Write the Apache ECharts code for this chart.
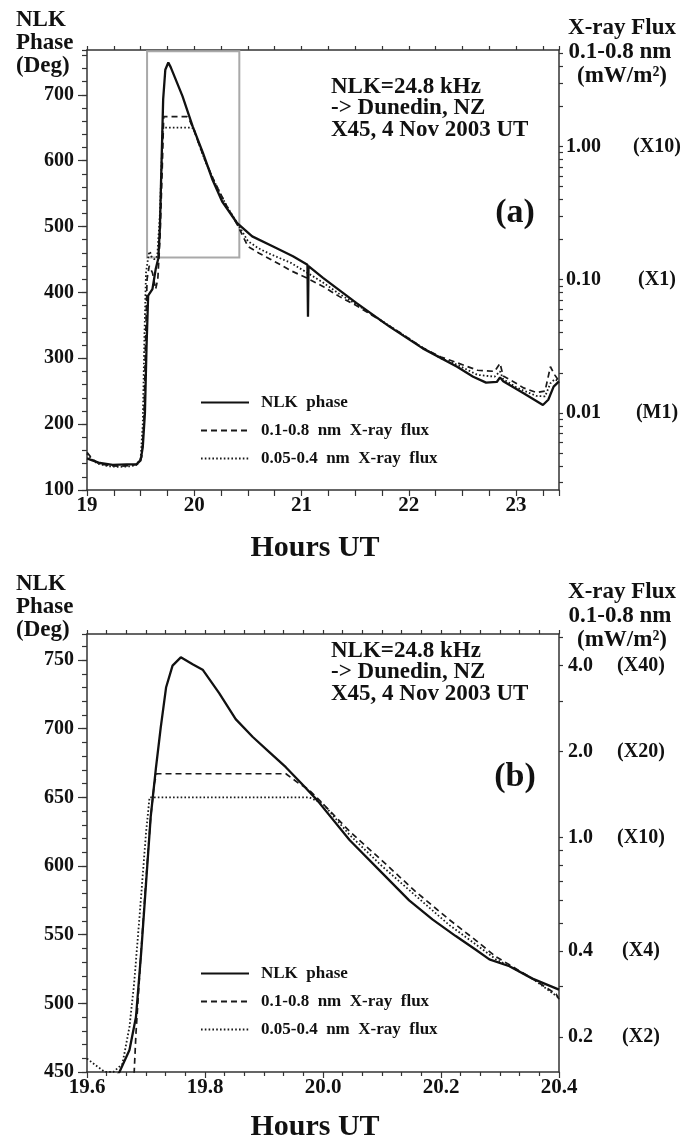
<!DOCTYPE html>
<html>
<head>
<meta charset="utf-8">
<title>NLK phase and X-ray flux, X45 flare, 4 Nov 2003</title>
<script src="https://cdn.jsdelivr.net/npm/echarts@6.0.0/dist/echarts.min.js"></script>
<style>
  html, body { margin: 0; padding: 0; background: #fff; }
  #chart { width: 686px; height: 1146px; }
</style>
</head>
<body>
<div id="chart"></div>
<script>
var seriesNames = ['NLK  phase', '0.1-0.8  nm  X-ray  flux', '0.05-0.4  nm  X-ray  flux'];

// ---- panel (a): [hours UT, value] ----
var nlkPhaseA = [
  [19.00,148],[19.05,145],[19.12,141],[19.24,138],[19.37,139],[19.46,139],[19.50,145],[19.52,165],
  [19.54,217],[19.555,318],[19.57,395],[19.61,405],[19.64,435],[19.665,452],[19.68,500],[19.69,566],
  [19.71,693],[19.73,738],[19.758,749],[19.78,742],[19.80,734],[19.89,698],[19.985,652],[20.08,612],
  [20.17,571],[20.26,538],[20.40,505],[20.54,485],[20.73,470],[20.92,455],[21.055,442],[21.06,363],
  [21.065,440],[21.20,422],[21.51,384],[21.82,348],[22.13,315],[22.45,287],[22.60,272],[22.72,263],
  [22.82,264],[22.85,271],[22.88,265],[23.07,247],[23.25,229],[23.30,237],[23.35,257],[23.40,265]
];
// X-ray flux in mW/m2
var fluxLongA = [
  [19.00,0.00505],[19.05,0.00450],[19.10,0.00420],[19.20,0.00402],[19.30,0.00397],[19.40,0.00402],
  [19.47,0.00411],[19.51,0.00466],[19.53,0.00822],[19.545,0.0323],[19.56,0.101],[19.58,0.127],
  [19.61,0.113],[19.64,0.0851],[19.66,0.101],[19.68,0.200],[19.70,0.625],[19.715,1.68],[19.93,1.68],
  [19.96,1.555],[20.00,1.31],[20.05,1.01],[20.10,0.793],[20.16,0.611],[20.22,0.486],[20.30,0.361],
  [20.40,0.260],[20.50,0.178],[20.60,0.159],[20.70,0.144],[20.80,0.130],[20.90,0.117],[21.06,0.102],
  [21.20,0.0891],[21.35,0.0750],[21.51,0.0640],[21.70,0.0515],[21.82,0.0450],[22.00,0.0362],
  [22.13,0.0308],[22.30,0.0263],[22.45,0.0238],[22.64,0.0209],[22.80,0.0205],[22.85,0.0235],
  [22.88,0.0189],[23.00,0.0167],[23.07,0.0154],[23.19,0.0142],[23.27,0.0146],[23.32,0.0222],
  [23.36,0.0193],[23.40,0.0173]
];
var fluxShortA = [
  [19.00,0.00493],[19.05,0.00445],[19.10,0.00415],[19.20,0.00397],[19.30,0.00393],[19.40,0.00397],
  [19.46,0.00406],[19.50,0.00455],[19.52,0.00822],[19.535,0.0362],[19.55,0.113],[19.575,0.156],
  [19.587,0.163],[19.60,0.150],[19.63,0.142],[19.655,0.150],[19.68,0.315],[19.706,1.39],[19.98,1.39],
  [20.00,1.325],[20.05,1.01],[20.10,0.785],[20.16,0.611],[20.22,0.481],[20.30,0.361],[20.40,0.266],
  [20.50,0.195],[20.60,0.172],[20.70,0.157],[20.80,0.145],[20.90,0.134],[21.06,0.112],[21.20,0.0953],
  [21.35,0.0785],[21.51,0.0655],[21.70,0.0521],[21.82,0.0450],[22.00,0.0362],[22.13,0.0308],
  [22.30,0.0257],[22.45,0.0230],[22.64,0.0193],[22.80,0.0187],[22.85,0.0205],[22.88,0.0179],
  [23.00,0.0156],[23.07,0.0147],[23.19,0.0134],[23.27,0.0133],[23.32,0.0167],[23.36,0.0179],
  [23.40,0.0173]
];

// ---- panel (b): zoom of the peak ----
var nlkPhaseB = [
  [19.600,410],[19.640,440],[19.655,450],[19.672,466],[19.683,490],[19.692,538],[19.700,587],
  [19.708,636],[19.717,672],[19.725,701],[19.734,730],[19.745,746],[19.759,752],[19.779,747],
  [19.796,743],[19.824,726],[19.852,707],[19.881,694],[19.909,683],[19.937,672],[19.966,659],
  [19.990,648],[20.045,619],[20.100,595],[20.146,575],[20.186,561],[20.225,549],[20.259,539],
  [20.282,532],[20.316,527],[20.355,518],[20.400,510]
];
var fluxLongB = [
  [19.670,0.108],[19.680,0.151],[19.683,0.206],[19.692,0.408],[19.700,0.710],[19.708,1.18],
  [19.714,1.54],[19.718,1.67],[19.937,1.67],[19.960,1.54],[19.975,1.475],[20.000,1.31],
  [20.045,1.05],[20.100,0.829],[20.158,0.643],[20.214,0.515],[20.259,0.436],[20.293,0.382],
  [20.316,0.358],[20.355,0.320],[20.395,0.283],[20.400,0.271]
];
var fluxShortB = [
  [19.600,0.168],[19.615,0.159],[19.630,0.151],[19.645,0.151],[19.660,0.161],[19.672,0.217],
  [19.680,0.310],[19.689,0.527],[19.700,1.035],[19.706,1.38],[19.977,1.38],[20.000,1.31],
  [20.045,1.02],[20.100,0.793],[20.158,0.622],[20.214,0.493],[20.259,0.422],[20.293,0.374],
  [20.316,0.354],[20.355,0.320],[20.400,0.274]
];

// ---- axes ----
var hourRangeA = [19, 23.4];
var phaseRangeA = [100, 768];
var phaseTicksA = [100, 200, 300, 400, 500, 600, 700];
var fluxRangeA = [0.002634, 5.318];
var fluxLabelValuesA = [0.01, 0.1, 1];
var fluxLabelTextA = ['0.01', '0.10', '1.00'];
var flareClassA = ['(M1)', '(X1)', '(X10)'];

var hourRangeB = [19.6, 20.4];
var phaseRangeB = [450, 769];
var phaseTicksB = [450, 500, 550, 600, 650, 700, 750];
var fluxRangeB = [0.1508, 5.152];
var fluxLabelValuesB = [0.2, 0.4, 1, 2, 4];
var fluxLabelTextB = ['0.2', '0.4', '1.0', '2.0', '4.0'];
var flareClassB = ['(X2)', '(X4)', '(X10)', '(X20)', '(X40)'];

var zoomBox = [[19.56, 453], [20.42, 766]];

var serif = "'Liberation Serif', 'Times New Roman', serif";
var ink = '#111';
var axisColor = '#333';

function toLog(list) {
    return list.map(function (p) { return [p[0], Math.log10(p[1])]; });
}

// log minor ticks 1..9 x 10^k inside the range
function logTicks(range) {
    var out = [];
    var lo = Math.floor(Math.log10(range[0])), hi = Math.ceil(Math.log10(range[1]));
    for (var k = lo; k <= hi; k++) {
        for (var m = 1; m <= 9; m++) {
            var v = m * Math.pow(10, k);
            if (v >= range[0] && v <= range[1]) out.push(Math.log10(v));
        }
    }
    return out;
}

function fluxFormatter(values, texts, classes) {
    return function (v) {
        for (var i = 0; i < values.length; i++) {
            if (Math.abs(Math.log10(values[i]) - v) < 1e-6) {
                return '{v|' + texts[i] + '}{c|' + classes[i] + '}';
            }
        }
        return '';
    };
}

var lineAxis = { show: true, onZero: false, lineStyle: { color: axisColor, width: 1.5 } };
var tickLine = { color: axisColor, width: 1.2 };
var labelFont = { color: ink, fontFamily: serif, fontWeight: 'bold', fontSize: 20 };

function hourAxis(grid, range, pos, interval, labelFn, minor) {
    return {
        type: 'value', gridIndex: grid, position: pos,
        min: range[0], max: range[1], interval: interval,
        axisLine: lineAxis,
        axisTick: { show: true, length: pos === 'top' ? 4 : 6, lineStyle: tickLine },
        minorTick: { show: !!minor, splitNumber: minor || 5, length: 4, lineStyle: tickLine },
        axisLabel: { show: !!labelFn, formatter: labelFn, margin: 5, fontSize: 21, color: ink, fontFamily: serif, fontWeight: 'bold' },
        splitLine: { show: false }
    };
}

function phaseAxis(grid, range, ticks) {
    return {
        type: 'value', gridIndex: grid, position: 'left',
        min: range[0], max: range[1],
        axisLine: lineAxis,
        axisTick: { show: true, length: 9, customValues: ticks, lineStyle: tickLine },
        axisLabel: Object.assign({ customValues: ticks, margin: 13 }, labelFont),
        splitLine: { show: false }
    };
}

function phaseMinorAxis(grid, range, step) {
    return {
        type: 'value', gridIndex: grid, position: 'left',
        min: range[0], max: range[1], interval: step,
        axisLine: { show: false, onZero: false },
        axisTick: { show: true, length: 5, lineStyle: tickLine },
        axisLabel: { show: false },
        splitLine: { show: false }
    };
}

function fluxAxis(grid, range, values, texts, classes, wv, margin) {
    return {
        type: 'value', gridIndex: grid, position: 'right',
        min: Math.log10(range[0]), max: Math.log10(range[1]),
        axisLine: lineAxis,
        axisTick: { show: true, length: 4, customValues: logTicks(range), lineStyle: tickLine },
        axisLabel: Object.assign({
            customValues: values.map(function (v) { return Math.log10(v); }),
            formatter: fluxFormatter(values, texts, classes),
            margin: margin,
            rich: {
                v: { width: wv, fontFamily: serif, fontWeight: 'bold', fontSize: 20, color: ink },
                c: { width: 58, align: 'center', fontFamily: serif, fontWeight: 'bold', fontSize: 20, color: ink }
            }
        }, labelFont),
        splitLine: { show: false }
    };
}

function lineSeries(name, data, xi, yi, style) {
    return {
        name: name, type: 'line', data: data,
        xAxisIndex: xi, yAxisIndex: yi,
        symbol: 'none', smooth: false, clip: true,
        lineStyle: style, itemStyle: { color: ink },
        z: style.type === 'solid' ? 5 : 3
    };
}

var solidStyle = { color: ink, width: 2.3, type: 'solid' };
var dashStyle = { color: '#1a1a1a', width: 1.7, type: [6, 4] };
var dotStyle = { color: '#1a1a1a', width: 1.8, type: [1.6, 2.2] };

function text(str, x, y, size, align) {
    return {
        type: 'text', x: x, y: y, silent: true,
        style: {
            text: str, fill: ink,
            font: 'bold ' + size + 'px ' + serif,
            align: align || 'left', verticalAlign: 'middle',
            textAlign: align || 'left', textVerticalAlign: 'middle'
        }
    };
}

function panelTexts(dy, letter) {
    return [
        text('NLK', 16, 20 + dy, 23),
        text('Phase', 16, 43 + dy, 23),
        text('(Deg)', 16, 66 + dy, 23),
        text('X-ray Flux', 622, 28 + dy, 23, 'center'),
        text('0.1-0.8 nm', 620, 52 + dy, 23, 'center'),
        text('(mW/m\u00B2)', 622, 76 + dy, 23, 'center'),
        text('NLK=24.8 kHz', 331, 87 + dy, 23),
        text('-> Dunedin, NZ', 331, 108 + dy, 23),
        text('X45, 4 Nov 2003 UT', 331, 130 + dy, 23),
        text(letter, 515, 213 + dy, 34, 'center')
    ];
}

var legendBase = {
    orient: 'vertical', data: seriesNames, padding: 0,
    itemWidth: 48, itemHeight: 14, itemGap: 11,
    selectedMode: false,
    itemStyle: { color: 'rgba(0,0,0,0)', borderWidth: 0, opacity: 0 },
    textStyle: { fontFamily: serif, fontWeight: 'bold', fontSize: 17, color: ink, padding: [0, 0, 0, 7] }
};

var option = {
    backgroundColor: '#fff',
    animation: false,
    grid: [
        { left: 87, top: 50, width: 472, height: 440 },
        { left: 87, top: 634, width: 472, height: 438 }
    ],
    xAxis: [
        hourAxis(0, hourRangeA, 'bottom', 0.25, function (v) {
            return Math.abs(v - Math.round(v)) < 1e-6 ? String(Math.round(v)) : '';
        }),
        hourAxis(0, hourRangeA, 'top', 0.25, null),
        hourAxis(1, hourRangeB, 'bottom', 0.2, function (v) { return v.toFixed(1); }, 6),
        hourAxis(1, hourRangeB, 'top', 0.2, null, 6)
    ],
    yAxis: [
        phaseAxis(0, phaseRangeA, phaseTicksA),
        phaseMinorAxis(0, phaseRangeA, 20),
        fluxAxis(0, fluxRangeA, fluxLabelValuesA, fluxLabelTextA, flareClassA, 62, 7),
        phaseAxis(1, phaseRangeB, phaseTicksB),
        phaseMinorAxis(1, phaseRangeB, 10),
        fluxAxis(1, fluxRangeB, fluxLabelValuesB, fluxLabelTextB, flareClassB, 44, 9)
    ],
    legend: [
        Object.assign({ left: 200, top: 394 }, legendBase),
        Object.assign({ left: 200, top: 965 }, legendBase)
    ],
    graphic: panelTexts(0, '(a)').concat(panelTexts(564, '(b)')).concat([
        text('Hours UT', 315, 548, 30, 'center'),
        text('Hours UT', 315, 1127, 30, 'center')
    ]),
    series: [
        Object.assign(lineSeries(seriesNames[0], nlkPhaseA, 0, 0, solidStyle), {
            markArea: {
                silent: true,
                itemStyle: { color: 'rgba(0,0,0,0)', borderColor: '#a9a9a9', borderWidth: 2 },
                data: [[{ coord: zoomBox[0] }, { coord: zoomBox[1] }]]
            }
        }),
        lineSeries(seriesNames[1], toLog(fluxLongA), 0, 2, dashStyle),
        lineSeries(seriesNames[2], toLog(fluxShortA), 0, 2, dotStyle),
        lineSeries(seriesNames[0], nlkPhaseB, 2, 3, solidStyle),
        lineSeries(seriesNames[1], toLog(fluxLongB), 2, 5, dashStyle),
        lineSeries(seriesNames[2], toLog(fluxShortB), 2, 5, dotStyle)
    ]
};

var myChart = echarts.init(document.getElementById('chart'));
myChart.setOption(option, true);
</script>
</body>
</html>
